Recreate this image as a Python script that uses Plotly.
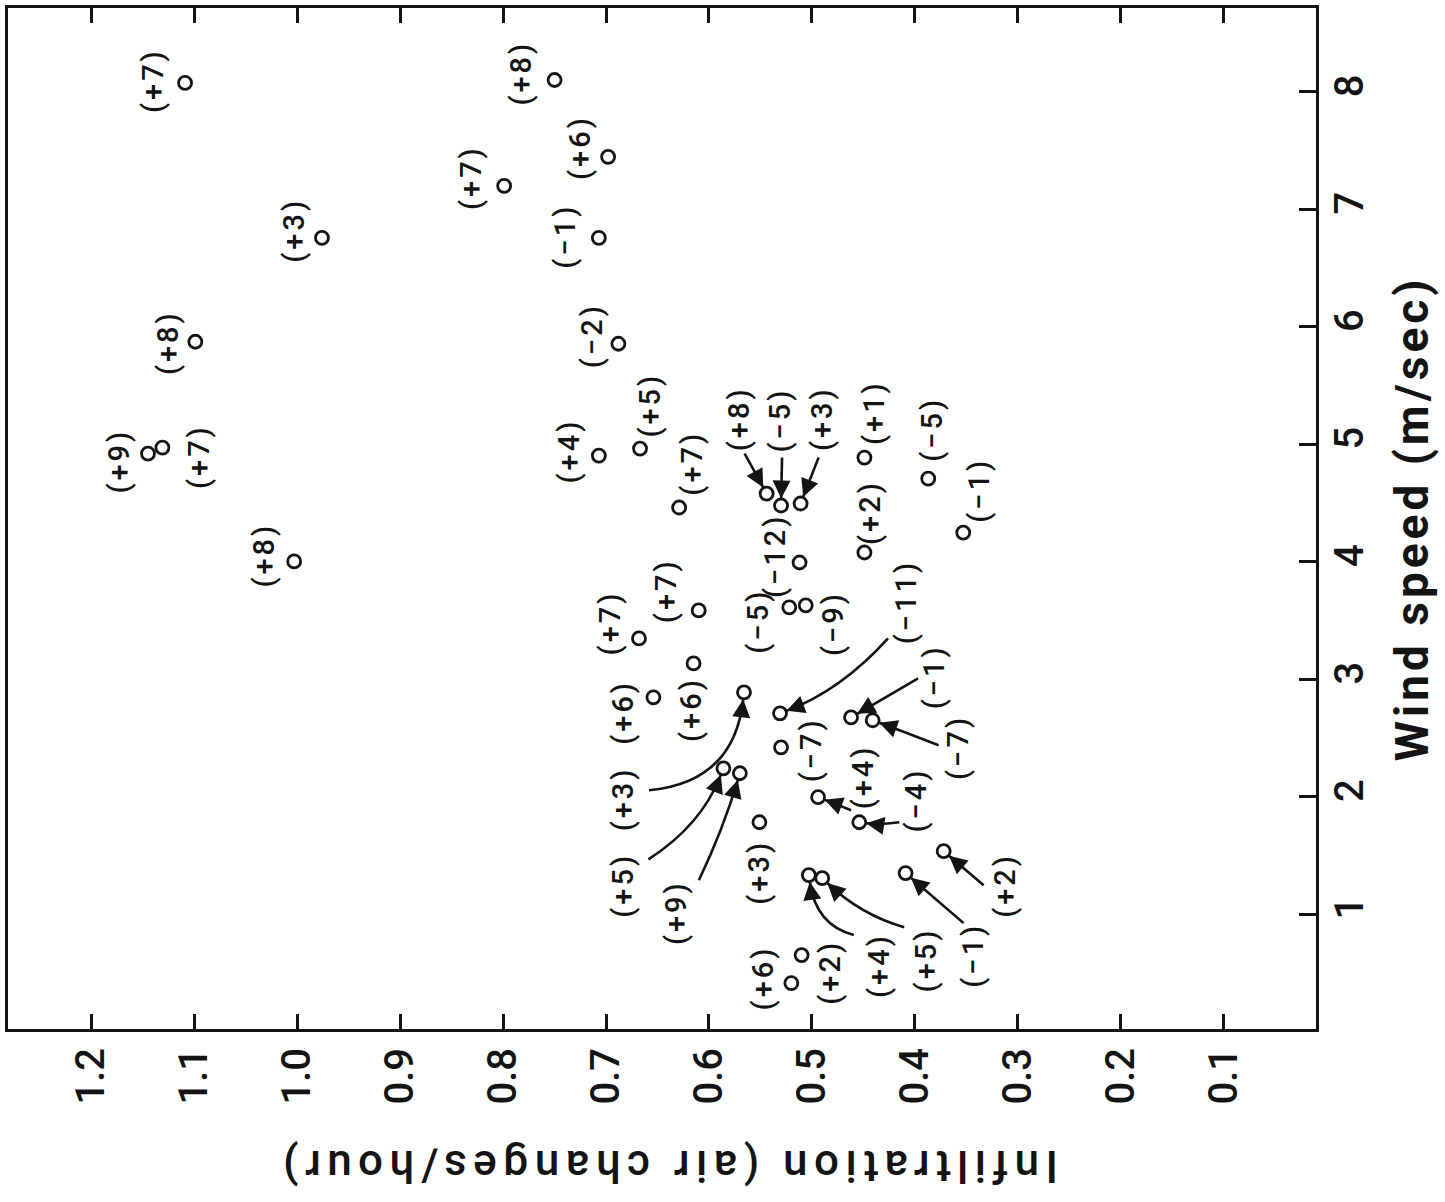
import math
import plotly.graph_objects as go

# ---------------- data ----------------
infiltration = [1.109, 0.976, 1.099, 1.145, 1.131, 1.003,
                0.750, 0.799, 0.698, 0.707, 0.688, 0.707, 0.667, 0.629,
                0.544, 0.530, 0.511, 0.449, 0.387, 0.353, 0.449, 0.512,
                0.522, 0.506, 0.610, 0.668, 0.654, 0.615, 0.566, 0.531,
                0.530, 0.462, 0.441, 0.586, 0.570, 0.551, 0.494, 0.454,
                0.503, 0.490, 0.409, 0.372, 0.520, 0.510]
wind_speed = [8.075, 6.757, 5.872, 4.920, 4.971, 4.002,
              8.100, 7.199, 7.446, 6.757, 5.855, 4.903, 4.963, 4.461,
              4.580, 4.478, 4.495, 4.886, 4.707, 4.248, 4.078, 3.993,
              3.611, 3.628, 3.585, 3.347, 2.845, 3.134, 2.888, 2.709,
              2.420, 2.675, 2.650, 2.241, 2.199, 1.782, 1.995, 1.782,
              1.332, 1.306, 1.349, 1.536, 0.413, 0.651]
point_labels = ["+7", "+3", "+8", "+9", "+7", "+8",
                "+8", "+7", "+6", "−1", "−2", "+4", "+5", "+7",
                "+8", "−5", "+3", "+1", "−5", "−1", "+2", "−12",
                "−5", "−9", "+7", "+7", "+6", "+6", "+3", "−11",
                "−7", "−1", "−7", "+5", "+9", "+3", "+4", "−4",
                "+4", "+5", "−1", "+2", "+6", "+2"]

x_tick_vals = [1.2, 1.1, 1.0, 0.9, 0.8, 0.7, 0.6, 0.5, 0.4, 0.3, 0.2, 0.1]
x_tick_text = ["1.2", "1.1", "1.0", "0.9", "0.8", "0.7", "0.6", "0.5", "0.4", "0.3", "0.2", "0.1"]
y_tick_vals = [1, 2, 3, 4, 5, 6, 7, 8]
y_tick_text = ["1", "2", "3", "4", "5", "6", "7", "8"]

x_title = "Infiltration (air changes/hour)"
y_title = "Wind speed (m/sec)"

# ---------------- layout (pixel placement of labels / arrows) ----------------
# label offsets from their point, in screen pixels (dx right, dy down)
label_offsets = [(-32, -2), (-28, -8), (-28, 1), (-29, 7), (36, 9), (-30, -6),
                 (-34, -7), (-33, -8), (-28, -9), (-34, -2), (-27, -8), (-30, -5), (10, -43), (12, -44),
                 (-28, -75), (-2, -85), (21, -85), (9, -45), (3, -49), (15, -42), (5, -40), (-25, -6),
                 (-31, 14), (28, 18), (-32, -20), (-29, -16), (-30, 15), (-2, 46), (-121, 106), (126, -111),
                 (30, 3), (83, -40), (86, 27), (-100, 117), (-64, 139), (0, 50), (45, -20), (57, -22),
                 (70, 90), (104, 82), (68, 82), (61, 34), (-28, -5), (28, 17)]
# arrows: point index -> (tail offset, control offset) in screen pixels relative to point
arrows = {
    14: ((-22, -40), (-11, -20)),
    15: ((1, -48), (0.5, -24)),
    16: ((18, -46), (9, -23)),
    28: ((-95, 98), (-10, 90)),
    29: ((108, -75), (61, -23)),
    31: ((67, -39), (33, -19)),
    32: ((66, 25), (33, 12)),
    33: ((-75, 91), (-22, 57)),
    34: ((-41, 107), (-17, 57)),
    36: ((33, 13), (16, 6)),
    37: ((40, 0), (20, 3)),
    38: ((45, 60), (7, 50)),
    39: ((82, 49), (39, 37)),
    40: ((58, 50), (29, 25)),
    41: ((40, 34), (20, 17)),
}

W, H = 1445, 1202
ML, MR, MT, MB = 5, 129, 7, 173
INK = "#141414"
FONT = "Roboto"

fig = go.Figure()
fig.add_trace(go.Scatter(
    x=infiltration, y=wind_speed, mode="markers",
    marker=dict(symbol="circle-open", size=13, color=INK, line=dict(width=2.8, color=INK)),
    hoverinfo="skip", showlegend=False))

annotations = []
shapes = []
for i, (xv, yv, lab) in enumerate(zip(infiltration, wind_speed, point_labels)):
    dx, dy = label_offsets[i]
    annotations.append(dict(
        x=xv, y=yv, xref="x", yref="y", showarrow=False,
        text='<span style="letter-spacing:3px">(' + lab + ')</span>',
        textangle=-90, xshift=dx, yshift=-dy,
        font=dict(family=FONT, size=29, color=INK, weight=500)))

for i, ((tx, ty), (cx, cy)) in arrows.items():
    xv, yv = infiltration[i], wind_speed[i]
    L = math.hypot(cx, cy)
    ux, uy = cx / L, cy / L
    ex, ey = ux * 7, uy * 7
    path = f"M {tx},{-ty} Q {cx},{-cy} {ex:.2f},{-ey:.2f}"
    shapes.append(dict(type="path", xref="x", yref="y", xsizemode="pixel", ysizemode="pixel",
                       xanchor=xv, yanchor=yv, path=path,
                       line=dict(color=INK, width=2.6)))
    annotations.append(dict(
        x=xv, y=yv, xref="x", yref="y", text="", showarrow=True,
        ax=ux * 22, ay=uy * 22, arrowhead=2, arrowsize=1.5, arrowwidth=2.4,
        arrowcolor=INK, standoff=7))

pw = W - ML - MR
ph = H - MT - MB
# axis titles
annotations.append(dict(
    xref="paper", yref="paper", x=(1412 - ML) / pw, y=1 - (518 - MT) / ph,
    text='<span style="letter-spacing:4px">' + y_title + '</span>',
    textangle=-90, showarrow=False, xanchor="center", yanchor="middle",
    font=dict(family=FONT, size=46, color=INK, weight="bold")))
annotations.append(dict(
    xref="paper", yref="paper", x=(666 - ML) / pw, y=1 - (1166 - MT) / ph,
    text='<span style="letter-spacing:6.5px">' + x_title + '</span>',
    textangle=180, showarrow=False, xanchor="center", yanchor="middle",
    font=dict(family=FONT, size=44, color=INK, weight=500)))

fig.update_layout(
    width=W, height=H, margin=dict(l=ML, r=MR, t=MT, b=MB),
    paper_bgcolor="white", plot_bgcolor="white",
    annotations=annotations, shapes=shapes, showlegend=False,
    xaxis=dict(range=[1.281, 0.0103], tickmode="array", tickvals=x_tick_vals, ticktext=x_tick_text,
               tickangle=-90, ticks="inside", ticklen=15, tickwidth=2.5, tickcolor=INK,
               showline=True, linewidth=3, linecolor=INK, mirror="ticks",
               showgrid=False, zeroline=False, ticklabelstandoff=0,
               tickfont=dict(family=FONT, size=40, color=INK, weight=500)),
    yaxis=dict(range=[0.022, 8.713], side="right", tickmode="array", tickvals=y_tick_vals,
               ticktext=y_tick_text, tickangle=-90, ticks="inside", ticklen=17, tickwidth=2.5,
               tickcolor=INK, showline=True, linewidth=3, linecolor=INK, mirror=True,
               showgrid=False, zeroline=False, ticklabelstandoff=-4,
               tickfont=dict(family=FONT, size=40, color=INK, weight=500)),
)

fig.write_html("out.html", config={"displayModeBar": False},
               post_script="document.body.style.margin='0px';")
